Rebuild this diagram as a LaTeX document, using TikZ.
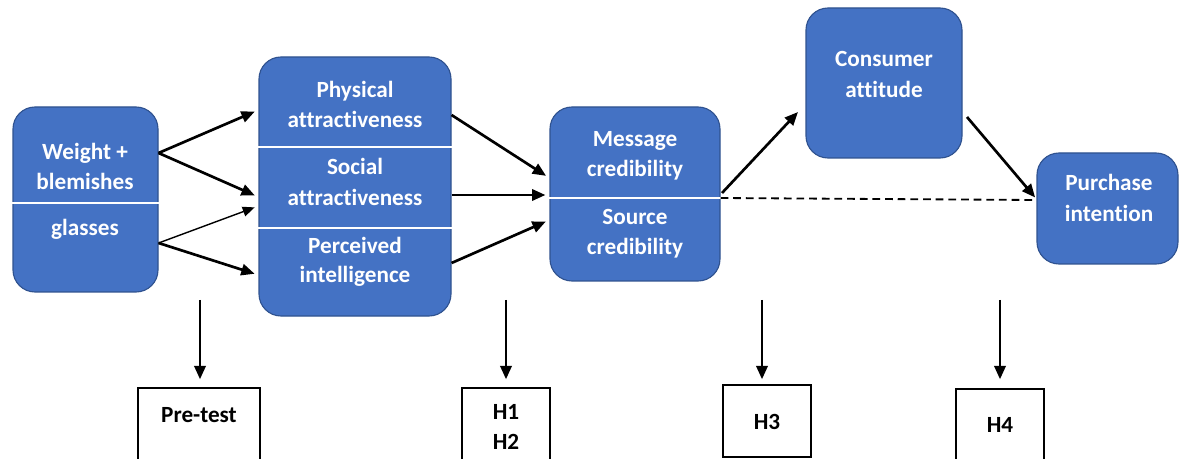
\documentclass[tikz,border=0pt]{standalone}
\usepackage{fontspec}
\setmainfont{Carlito}[Ligatures=NoCommon]
\usetikzlibrary{arrows.meta,fit}
\definecolor{boxblue}{HTML}{4472C4}
\definecolor{boxedge}{HTML}{2F528F}
\begin{document}
\begin{tikzpicture}[x=0.025cm,y=-0.025cm,
  box/.style={draw=boxedge, fill=boxblue, rounded corners=0.55cm, line width=0.8pt, inner sep=0pt},
  hbox/.style={draw=black, fill=white, line width=1pt, inner sep=0pt},
  lbl/.style={text=white, font=\bfseries\fontsize{16.5}{20}\selectfont, anchor=base, inner sep=0pt},
  blbl/.style={text=black, font=\bfseries\fontsize{16.5}{20}\selectfont, anchor=base, inner sep=0pt},
  arr/.style={-{Triangle[length=9.5pt,width=8pt]}, line width=1.9pt},
  thinarr/.style={-{Triangle[length=8.5pt,width=7pt]}, line width=1pt},
  divline/.style={white, line width=1.6pt},
  dashline/.style={dashed, dash pattern=on 5.5pt off 3.5pt, line width=1.3pt}]
\useasboundingbox (0,0) rectangle (1179,459);
\clip (0,0) rectangle (1179,459);

% blue boxes
\node[box, fit={(13,107) (158,292)}] (A) {};
\node[box, fit={(259,57) (451,316)}] (B) {};
\node[box, fit={(550,107) (720,281)}] (C) {};
\node[box, fit={(806,8) (962,158)}] (D) {};
\node[box, fit={(1037,153) (1178,264)}] (E) {};

% dividers
\draw[divline] (A.west |- 0,203) -- (A.east |- 0,203);
\draw[divline] (B.west |- 0,147) -- (B.east |- 0,147);
\draw[divline] (B.west |- 0,228) -- (B.east |- 0,228);
\draw[divline] (C.west |- 0,198) -- (C.east |- 0,198);

% labels
\node[lbl] (a1) at (85,160) {Weight +};
\node[lbl] (a2) at (85,190) {blemishes};
\node[lbl] (a3) at (85,236) {glasses};
\node[lbl] (b1) at (355,98) {Physical};
\node[lbl] (b2) at (355,128) {attractiveness};
\node[lbl] (b3) at (355,175) {Social};
\node[lbl] (b4) at (355,206) {attractiveness};
\node[lbl] (b5) at (355,253) {Perceived};
\node[lbl] (b6) at (355,283) {intelligence};
\node[lbl] (c1) at (635,147) {Message};
\node[lbl] (c2) at (635,177) {credibility};
\node[lbl] (c3) at (635,225) {Source};
\node[lbl] (c4) at (635,255) {credibility};
\node[lbl] (d1) at (884,67) {Consumer};
\node[lbl] (d2) at (884,98) {attitude};
\node[lbl] (e1) at (1109,191) {Purchase};
\node[lbl] (e2) at (1109,222) {intention};

% bottom boxes
\node[hbox, fit={(138,388) (260,475)}] (PT) {};
\node[hbox, fit={(462,388) (550,475)}] (H12) {};
\node[hbox, fit={(723,385) (811,457)}] (H3) {};
\node[hbox, fit={(956,389) (1044,475)}] (H4) {};
\node[blbl] (pt) at (199,422) {Pre-test};
\node[blbl] (h1) at (506,419) {H1};
\node[blbl] (h2) at (506,449) {H2};
\node[blbl] (h3) at (767,429) {H3};
\node[blbl] (h4) at (1000,432) {H4};

% arrows A -> B
\draw[arr, shorten >=0.1cm] (A.east |- 0,153) -- (B.west |- 0,110);
\draw[arr, shorten >=0.1cm] (A.east |- 0,153) -- (B.west |- 0,197);
\draw[thinarr, shorten >=0.1cm] (A.east |- 0,243) -- (B.west |- 0,206);
\draw[arr, shorten >=0.1cm] (A.east |- 0,243) -- (B.west |- 0,275);

% arrows B -> C
\draw[arr, shorten >=0.1cm] (B.east |- 0,115) -- (C.west |- 0,178);
\draw[arr, shorten >=0.1cm] (B.east |- 0,195) -- (C.west |- 0,195);
\draw[arr, shorten >=0.1cm] (B.east |- 0,263) -- (C.west |- 0,220);

% C -> D, D -> E, C - - E
\coordinate (cd0) at (722,193);
\coordinate (cd1) at (798,112);
\draw[arr] (cd0) -- (cd1);
\coordinate (de0) at (967,117);
\draw[arr, shorten >=0.05cm] (de0) -- (E.west |- 0,199);
\draw[dashline] (C.east |- 0,198) -- (E.west |- 0,200);

% down arrows
\coordinate (p1) at (200,300);
\coordinate (p2) at (506,300);
\coordinate (p3) at (762,300);
\coordinate (p4) at (1000,300);
\draw[arr, shorten >=0.2cm] (p1) -- (p1 |- PT.north);
\draw[arr, shorten >=0.2cm] (p2) -- (p2 |- H12.north);
\draw[arr, shorten >=0.125cm] (p3) -- (p3 |- H3.north);
\draw[arr, shorten >=0.225cm] (p4) -- (p4 |- H4.north);
\end{tikzpicture}
\end{document}
